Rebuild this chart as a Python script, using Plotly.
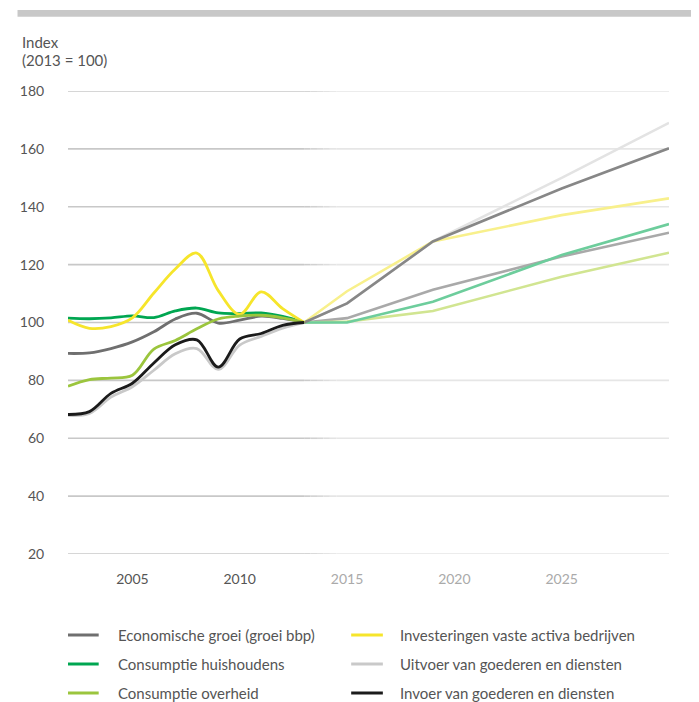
import plotly.graph_objects as go

# ---------------- data ----------------
years_hist = [2002, 2003, 2004, 2005, 2006, 2007, 2008, 2009, 2010, 2011, 2012, 2013]
gdp_hist = [89.3, 89.5, 91.0, 93.3, 96.8, 101.2, 103.2, 99.8, 100.8, 102.2, 101.4, 100]
hh_hist = [101.5, 101.3, 101.6, 102.3, 101.7, 104.0, 105.0, 103.3, 103.1, 103.3, 102.1, 100]
gov_hist = [78.0, 80.3, 80.8, 81.8, 90.8, 93.8, 97.8, 101.2, 102.2, 102.5, 101.6, 100]
inv_hist = [100.8, 98.0, 98.6, 101.6, 110.2, 118.5, 124.0, 111.0, 102.8, 110.6, 104.8, 100]
exp_hist = [67.9, 68.6, 74.2, 77.8, 83.5, 89.2, 91.0, 83.8, 92.2, 95.2, 98.0, 100]
imp_hist = [68.2, 69.2, 75.5, 79.0, 86.0, 92.3, 94.0, 84.6, 94.3, 96.2, 99.0, 100]

years_fc = [2013, 2015, 2019, 2025, 2030]
gdp_fc = [100, 106.6, 128.0, 146.3, 160.2]
hh_fc = [100, 100.0, 107.2, 123.3, 134.0]
gov_fc = [100, 100.3, 104.0, 115.8, 124.1]
inv_fc = [100, 110.8, 128.0, 137.1, 142.9]
exp_fc = [100, 106.6, 128.0, 150.0, 169.0]
imp_fc = [100, 101.5, 111.3, 122.8, 131.0]

names = ["Economische groei (groei bbp)", "Consumptie huishoudens", "Consumptie overheid",
         "Investeringen vaste activa bedrijven", "Uitvoer van goederen en diensten",
         "Invoer van goederen en diensten"]

y_ticks = [20, 40, 60, 80, 100, 120, 140, 160, 180]
x_ticks = [2005, 2010, 2015, 2020, 2025]

# ---------------- styles ----------------
FONT = "Lato, 'Open Sans', sans-serif"
TXT = "#555555"
col_hist = {"gdp": "#6f6f6f", "hh": "#00a651", "gov": "#9bc53d",
            "inv": "#f6e52b", "exp": "#c9c9c9", "imp": "#1b1b1b"}
col_fc = {"gdp": "#878787", "hh": "#6dcd9c", "gov": "#d1e591",
          "inv": "#f8f08c", "exp": "#e3e3e3", "imp": "#a9a9a9"}

fig = go.Figure()

# forecast lines (below)
for key, ys in [("exp", exp_fc), ("imp", imp_fc), ("gov", gov_fc),
                ("hh", hh_fc), ("inv", inv_fc), ("gdp", gdp_fc)]:
    fig.add_trace(go.Scatter(x=years_fc, y=ys, mode="lines",
                             line=dict(color=col_fc[key], width=2.6),
                             showlegend=False, hoverinfo="skip"))

# historical lines
for key, ys in [("exp", exp_hist), ("gdp", gdp_hist), ("hh", hh_hist),
                ("inv", inv_hist), ("gov", gov_hist), ("imp", imp_hist)]:
    fig.add_trace(go.Scatter(x=years_hist, y=ys, mode="lines",
                             line=dict(color=col_hist[key], width=2.8,
                                       shape="spline", smoothing=1.0),
                             showlegend=False, hoverinfo="skip"))

# page body has an 8px margin -> work in reference pixels and shift by 8
OFF = 8
W, H = 699 - OFF, 702 - OFF
L = 62 - OFF
R = W - (669 - OFF)
T = 91 - OFF
B = H - (554 - OFF)
pw, ph = W - L - R, H - T - B


def px(xp):
    return (xp - OFF - L) / pw


def py(yp):
    return (H - B - (yp - OFF)) / ph


# gridlines with fade from dark (history) to light (forecast)
shapes = []
dark = (200, 200, 200)
light = (230, 230, 230)
fade_x = [2013.0, 2013.3, 2013.6, 2013.9, 2014.2, 2014.5]
for yv in y_ticks:
    shapes.append(dict(type="line", xref="x", yref="y", x0=2002, x1=2013, y0=yv, y1=yv,
                       line=dict(color="rgb(%d,%d,%d)" % dark, width=1.6), layer="below"))
    for i in range(len(fade_x) - 1):
        t = (i + 0.5) / (len(fade_x) - 1)
        c = tuple(int(round(dark[k] + (light[k] - dark[k]) * t)) for k in range(3))
        shapes.append(dict(type="line", xref="x", yref="y", x0=fade_x[i], x1=fade_x[i + 1],
                           y0=yv, y1=yv, line=dict(color="rgb(%d,%d,%d)" % c, width=1.6),
                           layer="below"))
    shapes.append(dict(type="line", xref="x", yref="y", x0=2014.5, x1=2030, y0=yv, y1=yv,
                       line=dict(color="rgb(%d,%d,%d)" % light, width=1.6), layer="below"))

# top gray bar
shapes.append(dict(type="rect", xref="paper", yref="paper", x0=px(11), x1=px(699),
                   y0=py(16.8), y1=py(10), fillcolor="#c8c8c8", line=dict(width=0)))

annotations = [
    dict(text="Index", xref="paper", yref="paper", x=px(14), y=py(42), xanchor="left",
         yanchor="middle", showarrow=False, font=dict(family=FONT, size=15, color=TXT)),
    dict(text="(2013 = 100)", xref="paper", yref="paper", x=px(14), y=py(60), xanchor="left",
         yanchor="middle", showarrow=False, font=dict(family=FONT, size=15, color=TXT)),
]

# manual legend (two columns)
leg_items = [
    (names[0], col_hist["gdp"], 62, 93, 110, 635),
    (names[1], col_hist["hh"], 62, 93, 110, 664),
    (names[2], col_hist["gov"], 62, 93, 110, 693),
    (names[3], col_hist["inv"], 348, 380, 395, 635),
    (names[4], col_hist["exp"], 348, 380, 395, 664),
    (names[5], col_hist["imp"], 348, 380, 395, 693),
]
for text, c, s0, s1, tx, yy in leg_items:
    shapes.append(dict(type="line", xref="paper", yref="paper", x0=px(s0), x1=px(s1),
                       y0=py(yy), y1=py(yy), line=dict(color=c, width=3)))
    annotations.append(dict(text=text, xref="paper", yref="paper", x=px(tx), y=py(yy),
                            xanchor="left", yanchor="middle", showarrow=False,
                            font=dict(family=FONT, size=15, color=TXT)))

x_text = []
for yr in x_ticks:
    c = TXT if yr <= 2010 else "#aaaaaa"
    x_text.append('<span style="color:%s">%d</span>' % (c, yr))

fig.update_layout(
    width=W, height=H,
    margin=dict(l=L, r=R, t=T, b=B, pad=0),
    paper_bgcolor="white", plot_bgcolor="white",
    font=dict(family=FONT, size=14, color=TXT),
    shapes=shapes, annotations=annotations,
    xaxis=dict(range=[2002, 2030], tickvals=x_ticks, ticktext=x_text,
               showgrid=False, zeroline=False, showline=False,
               ticks="outside", ticklen=12, tickcolor="rgba(0,0,0,0)",
               tickfont=dict(family=FONT, size=14, color=TXT), fixedrange=True),
    yaxis=dict(range=[20, 180], tickvals=y_ticks, showgrid=False, zeroline=False,
               showline=False, ticks="outside", ticklen=20, tickcolor="rgba(0,0,0,0)",
               tickfont=dict(family=FONT, size=14, color=TXT), fixedrange=True),
)

fig.write_html("out.html")
